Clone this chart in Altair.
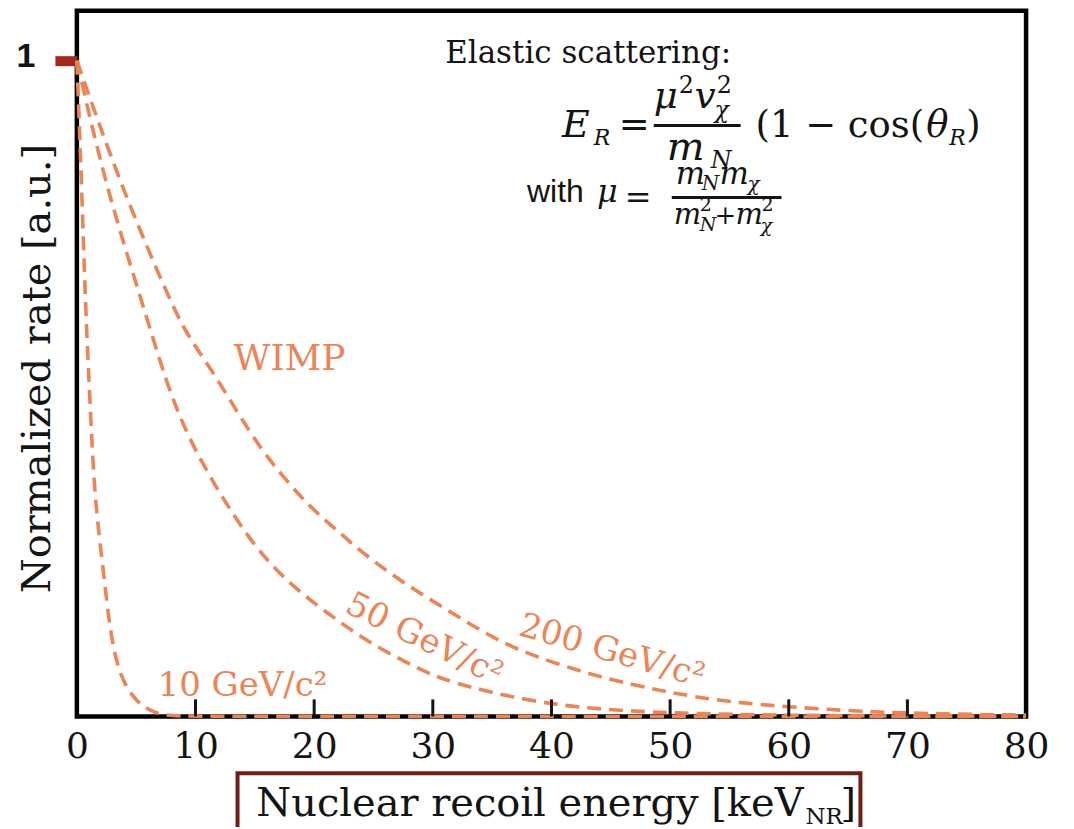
import altair as alt
import pandas as pd

# ---- curve data (recoil energy in keV, normalized rate) ----
energy_10 = [0, 0.4, 0.7, 1.1, 1.5, 2.2, 2.8, 3.6, 5.0, 6.7, 8.5, 12, 80]
rate_10 = [1.0, 0.813, 0.635, 0.482, 0.33, 0.229, 0.127, 0.061, 0.021, 0.003, 0.0005, 0.0, 0.0]

energy_50 = [0, 2.36, 5.44, 7.55, 9.23, 11.19, 13.43, 15.67, 18.48, 21.85, 24.65, 28.85,
             31.38, 38.1, 43.74, 50, 60, 70, 80]
rate_50 = [1.0, 0.813, 0.635, 0.508, 0.432, 0.366, 0.300, 0.244, 0.193, 0.148, 0.112, 0.072,
           0.052, 0.023, 0.011, 0.005, 0.0015, 0.0005, 0.0002]

energy_200 = [0, 3.62, 7.82, 9.23, 11.19, 13.43, 15.39, 17.36, 19.6, 21.85, 24.09, 27.45,
              32.5, 36.7, 43.7, 49.3, 54.9, 65, 72, 80]
rate_200 = [1.0, 0.813, 0.635, 0.584, 0.533, 0.467, 0.411, 0.366, 0.320, 0.285, 0.249, 0.204,
            0.148, 0.102, 0.061, 0.0385, 0.021, 0.008, 0.004, 0.002]

series_names = ["10 GeV", "50 GeV", "200 GeV"]
x_tick_labels = [0, 10, 20, 30, 40, 50, 60, 70, 80]
inner_ticks = [10, 20, 30, 40, 50, 60, 70]
y_tick_labels = [1]

ORANGE = "#EC8455"
INK = "#141414"

curves = pd.concat([
    pd.DataFrame({"x": energy_10, "y": rate_10, "series": series_names[0]}),
    pd.DataFrame({"x": energy_50, "y": rate_50, "series": series_names[1]}),
    pd.DataFrame({"x": energy_200, "y": rate_200, "series": series_names[2]}),
])

ticks_df = pd.DataFrame({"x": inner_ticks, "y": [0.0] * len(inner_ticks),
                         "y2": [0.026] * len(inner_ticks)})

# fraction bars of the formula (data units)
bars_df = pd.DataFrame({"x": [48.62, 50.14], "x2": [55.94, 59.39], "y": [0.901, 0.7915]})

# box round the x-axis title (data units)
box_df = pd.DataFrame({"x": [13.54], "x2": [66.04], "y": [-0.0868], "y2": [-0.205]})

# annotations: text, x, y, size, angle, font, style, align, baseline, color
SERIF = "DejaVu Serif"
SANS = "Liberation Sans"
L, A = "left", "alphabetic"
ann = [
    ("Elastic scattering:", 31.04, 0.997, 31, 0, SERIF, "normal", L, A, INK),
    ("E", 40.88, 0.883, 38, 0, SERIF, "italic", L, A, INK),
    ("R", 43.57, 0.871, 22, 0, SERIF, "italic", L, A, INK),
    ("=", 45.68, 0.883, 37, 0, SERIF, "normal", L, A, INK),
    ("μ", 48.62, 0.928, 37, 0, SERIF, "italic", L, A, INK),
    ("2", 50.73, 0.950, 24, 0, SERIF, "normal", L, A, INK),
    ("v", 52.07, 0.928, 37, 0, SERIF, "italic", L, A, INK),
    ("2", 53.92, 0.950, 24, 0, SERIF, "normal", L, A, INK),
    ("χ", 53.75, 0.913, 24, 0, SERIF, "italic", L, A, INK),
    ("m", 49.72, 0.848, 40, 0, SERIF, "italic", L, A, INK),
    ("N", 53.42, 0.836, 24, 0, SERIF, "italic", L, A, INK),
    ("(1 − cos(", 57.20, 0.883, 37, 0, SERIF, "normal", L, A, INK),
    ("θ", 71.59, 0.883, 37, 0, SERIF, "italic", L, A, INK),
    ("R", 73.52, 0.871, 22, 0, SERIF, "italic", L, A, INK),
    (")", 74.95, 0.883, 37, 0, SERIF, "normal", L, A, INK),
    ("with", 37.94, 0.784, 32, 0, SANS, "normal", L, A, INK),
    ("μ", 43.83, 0.784, 32, 0, SERIF, "italic", L, A, INK),
    ("=", 46.18, 0.776, 32, 0, SERIF, "normal", L, A, INK),
    ("m", 50.47, 0.8113, 31, 0, SERIF, "italic", L, A, INK),
    ("N", 52.66, 0.8021, 20, 0, SERIF, "italic", L, A, INK),
    ("m", 54.17, 0.8113, 31, 0, SERIF, "italic", L, A, INK),
    ("χ", 56.53, 0.8006, 20, 0, SERIF, "italic", L, A, INK),
    ("m", 50.30, 0.7504, 29, 0, SERIF, "italic", L, A, INK),
    ("2", 52.49, 0.7702, 19, 0, SERIF, "normal", L, A, INK),
    ("N", 52.49, 0.7397, 19, 0, SERIF, "italic", L, A, INK),
    ("+", 53.75, 0.7504, 26, 0, SERIF, "normal", L, A, INK),
    ("m", 55.52, 0.7504, 29, 0, SERIF, "italic", L, A, INK),
    ("2", 57.71, 0.7702, 19, 0, SERIF, "normal", L, A, INK),
    ("χ", 57.63, 0.7382, 19, 0, SERIF, "italic", L, A, INK),
    ("WIMP", 17.92, 0.528, 36, 0, SERIF, "normal", "center", A, ORANGE),
    ("10 GeV/c²", 6.81, 0.0304, 34, 0, SERIF, "normal", L, A, ORANGE),
    ("50 GeV/c²", 29.27, 0.117, 34, 26, SERIF, "normal", "center", "middle", ORANGE),
    ("200 GeV/c²", 45.09, 0.0989, 34, 16, SERIF, "normal", "center", "middle", ORANGE),
    ("Nuclear recoil energy [keV", 61.24, -0.1522, 40, 0, SERIF, "normal", "right", A, INK),
    ("NR", 61.41, -0.1644, 23, 0, SERIF, "normal", L, A, INK),
    ("]", 64.35, -0.1522, 40, 0, SERIF, "normal", L, A, INK),
]
ann_df = pd.DataFrame(ann, columns=["text", "x", "y", "size", "angle", "font", "style",
                                    "align", "baseline", "color"])

x_scale = alt.Scale(domain=[0, 80], nice=False, zero=False)
y_scale = alt.Scale(domain=[0, 1.0761], nice=False, zero=False)

x_axis = alt.Axis(values=x_tick_labels, labelFont=SERIF, labelFontSize=36, labelColor=INK,
                  labelFlush=False, labelPadding=13, ticks=False, tickSize=0, domain=False,
                  grid=False, labelOverlap=False)
y_axis = alt.Axis(values=y_tick_labels, labelFont=SANS, labelFontWeight="bold", labelFontSize=34,
                  labelColor=INK, labelPadding=20, tickColor="#A3291C", tickWidth=10, tickSize=22,
                  domain=False, grid=False, title="Normalized rate [a.u.]", titleFont=SERIF,
                  titleFontSize=40, titleFontWeight="normal", titleColor=INK, titleX=-39,
                  titleY=358, titleAngle=270, titleAlign="center", titleBaseline="middle",
                  labelOffset=-4)

X = alt.X("x:Q", scale=x_scale, axis=x_axis, title=None)
Y = alt.Y("y:Q", scale=y_scale, axis=y_axis)

lines = alt.Chart(curves).mark_line(
    color=ORANGE, strokeWidth=3.6, strokeDash=[14, 8], interpolate="basis"
).encode(x=X, y=Y, detail="series:N")

ticks = alt.Chart(ticks_df).mark_rule(color=INK, strokeWidth=3).encode(
    x=X, y=Y, y2=alt.Y2("y2:Q"))

bars = alt.Chart(bars_df).mark_rule(color=INK, strokeWidth=3).encode(
    x=X, x2=alt.X2("x2:Q"), y=Y)

box = alt.Chart(box_df).mark_rect(fillOpacity=0, stroke="#6E1E15", strokeWidth=4).encode(
    x=X, x2=alt.X2("x2:Q"), y=Y, y2=alt.Y2("y2:Q"))

text_layers = []
for (font, style, align, baseline, color), grp in ann_df.groupby(
        ["font", "style", "align", "baseline", "color"]):
    text_layers.append(
        alt.Chart(grp.reset_index(drop=True)).mark_text(
            font=font, fontStyle=style, align=align, baseline=baseline, color=color
        ).encode(
            x=X, y=Y, text="text:N",
            size=alt.Size("size:Q", scale=None, legend=None),
            angle=alt.Angle("angle:Q", scale=None),
        )
    )

chart = alt.layer(lines, ticks, bars, box, *text_layers).properties(
    width=951, height=707,
    padding={"left": 69, "top": 2, "right": 40, "bottom": 110},
    autosize=alt.AutoSizeParams(type="none"),
).configure_view(stroke="black", strokeWidth=4.5)

chart.save("out.html", embed_options={"renderer": "svg", "actions": False})
